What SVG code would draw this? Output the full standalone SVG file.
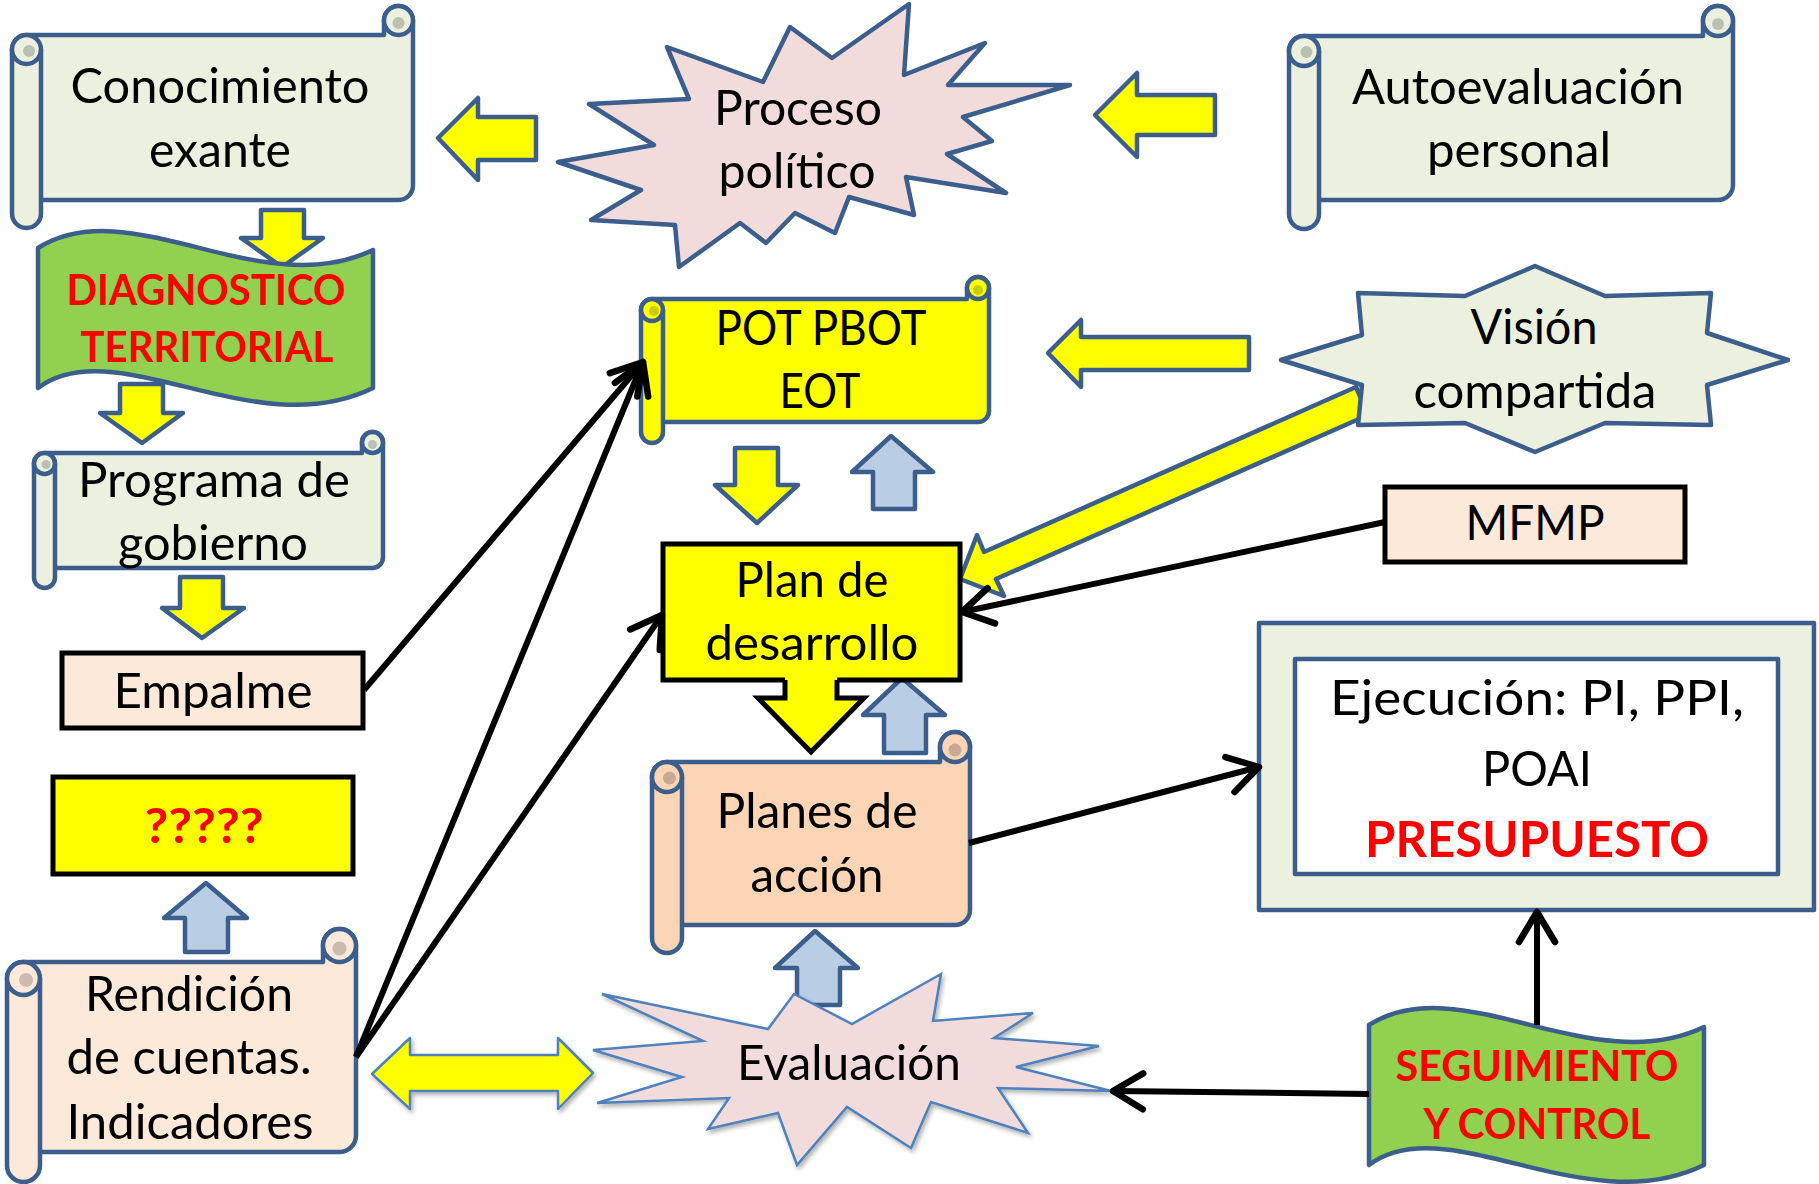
<svg xmlns="http://www.w3.org/2000/svg" width="1819" height="1184" viewBox="0 0 1819 1184">
<style>
text{font-family:Lato,"Liberation Sans",sans-serif;fill:#000;text-anchor:middle}
.t{font-size:49px}
.r{font-size:42px;font-weight:bold;fill:#ff0000}
.sc{stroke:#3b5e8c;stroke-width:4.5;stroke-linejoin:round}
.ln{fill:none;stroke:#3b5e8c;stroke-width:4.5}
.ya{fill:#ffff00;stroke:#3b5e8c;stroke-width:4.5;stroke-linejoin:round}
.ba{fill:#b9cde5;stroke:#3b5e8c;stroke-width:4.5;stroke-linejoin:round}
.bx{stroke:#000;stroke-width:5}
.con{fill:none;stroke:#000;stroke-width:6;marker-end:url(#ah)}
</style>
<defs>
<marker id="ah" markerUnits="userSpaceOnUse" markerWidth="50" markerHeight="50" viewBox="-40 -25 50 50" refX="0" refY="0" orient="auto" overflow="visible">
<path d="M-30,-18 L0,0 L-30,18" fill="none" stroke="#000" stroke-width="6.5" stroke-linecap="round" stroke-linejoin="round"/>
</marker>
<filter id="sh" x="-10%" y="-10%" width="130%" height="130%">
<feDropShadow dx="2" dy="3" stdDeviation="2" flood-color="#000" flood-opacity="0.3"/>
</filter>
<path id="wave" d="M38,248 C130,190 260,304 373,250 L373,388 C255,446 115,330 38,388 Z"/>
</defs>
<rect width="1819" height="1184" fill="#fff"/>

<g id="block-arrows">
<polygon class="ya" points="438,138 478,98 478,117 536,117 536,160 478,160 478,180"/>
<polygon class="ya" points="1095,115 1137,73 1137,95 1215,95 1215,135 1137,135 1137,157"/>
<polygon class="ya" points="1048,353 1081,320 1081,337 1249,337 1249,370 1081,370 1081,387"/>
<polygon class="ya" points="261,210 304,210 304,238 323,238 282,267 241,238 261,238"/>
<polygon class="ya" points="120,384 163,384 163,413 183,413 142,443 100,413 120,413"/>
<polygon class="ya" points="180,577 223,577 223,608 244,608 202,638 162,608 180,608"/>
<polygon class="ba" points="206,883 247,918 228,918 228,952 185,952 185,918 164,918"/>
<polygon class="ya" points="735,448 778,448 778,485 798,485 757,523 715,485 735,485"/>
<polygon class="ba" points="891,436 933,472 915,472 915,509 873,509 873,472 852,472"/>
<path d="M785,676 L785,698 L758,698 L811,752 L864,698 L837,698 L837,676 Z" fill="#ffff00"/>
<path d="M785,680 L785,698 L758,698 L811,752 L864,698 L837,698 L837,680" fill="none" stroke="#000" stroke-width="5" stroke-linejoin="miter"/>
<polygon class="ba" points="902,678 945,715 926,715 926,753 884,753 884,715 863,715"/>
<polygon class="ba" points="815,931 858,968 840,968 840,1005 797,1005 797,968 775,968"/>
<polygon points="372,1074 410,1038 410,1055 558,1055 558,1038 593,1073 558,1109 558,1091 410,1091 410,1109" fill="#ffff00" stroke="#4f81bd" stroke-width="2.5" stroke-linejoin="round" filter="url(#sh)"/>
<polygon class="ya" points="1368,415 996,579 1004,596 960,579 977,535 984,552 1356,387"/>
</g>

<g id="conocimiento">
<path class="sc" fill="#ebf1de" d="M12,49.5 A14.5,14.5 0 0 1 26.5,35 L384,35 L384,20.5 A14.5,14.5 0 0 1 413,20.5 L413,185.5 A14.5,14.5 0 0 1 398.5,200 L41,200 L41,213.5 A14.5,14.5 0 0 1 12,213.5 Z"/>
<circle class="sc" fill="#ebf1de" cx="26.5" cy="49.5" r="14.5"/>
<circle class="sc" fill="#ebf1de" cx="398.5" cy="20.5" r="14.5"/>
<path class="ln" d="M41,49.5 L41,200"/>
<circle fill="#bcc0b2" cx="29" cy="51" r="6"/>
<circle fill="#bcc0b2" cx="398.5" cy="23" r="6"/>
<text class="t" x="220" y="103" textLength="299" lengthAdjust="spacingAndGlyphs">Conocimiento</text>
<text class="t" x="220" y="167" textLength="142" lengthAdjust="spacingAndGlyphs">exante</text>
</g>

<g id="proceso">
<polygon class="sc" fill="#f2dcdb" points="558,162 654,145 589,104 689,99 667,47 763,82 790,27 832,58 909,4 904,75 985,43 948,85 1070,85 963,117 992,141 947,154 1006,193 906,177 914,215 849,197 835,233 795,213 766,243 740,223 679,267 675,225 591,220 641,190"/>
<text class="t" x="798" y="125" textLength="168" lengthAdjust="spacingAndGlyphs">Proceso</text>
<text class="t" x="797" y="188" textLength="157" lengthAdjust="spacingAndGlyphs">político</text>
</g>

<g id="autoevaluacion">
<path class="sc" fill="#ebf1de" d="M1289,51 A15,15 0 0 1 1304,36 L1703,36 L1703,21 A15,15 0 0 1 1733,21 L1733,185 A15,15 0 0 1 1718,200 L1319,200 L1319,214 A15,15 0 0 1 1289,214 Z"/>
<circle class="sc" fill="#ebf1de" cx="1304" cy="51" r="15"/>
<circle class="sc" fill="#ebf1de" cx="1718" cy="21" r="15"/>
<path class="ln" d="M1319,51 L1319,200"/>
<circle fill="#bcc0b2" cx="1306.5" cy="52" r="6"/>
<circle fill="#bcc0b2" cx="1718" cy="24" r="6"/>
<text class="t" x="1518" y="104" textLength="332" lengthAdjust="spacingAndGlyphs">Autoevaluación</text>
<text class="t" x="1519" y="167" textLength="184" lengthAdjust="spacingAndGlyphs">personal</text>
</g>

<g id="diagnostico">
<use href="#wave" class="sc" fill="#92d050"/>
<text class="r" x="206" y="305" textLength="279" lengthAdjust="spacingAndGlyphs">DIAGNOSTICO</text>
<text class="r" x="207" y="362" textLength="253" lengthAdjust="spacingAndGlyphs">TERRITORIAL</text>
</g>

<g id="programa">
<path class="sc" fill="#ebf1de" d="M34,463.5 A10.5,10.5 0 0 1 44.5,453 L362,453 L362,442.5 A10.5,10.5 0 0 1 383,442.5 L383,557.5 A10.5,10.5 0 0 1 372.5,568 L55,568 L55,577.5 A10.5,10.5 0 0 1 34,577.5 Z"/>
<circle class="sc" fill="#ebf1de" cx="44.5" cy="463.5" r="10.5"/>
<circle class="sc" fill="#ebf1de" cx="372.5" cy="442.5" r="10.5"/>
<path class="ln" d="M55,463.5 L55,568"/>
<circle fill="#bcc0b2" cx="46" cy="464.5" r="4.5"/>
<circle fill="#bcc0b2" cx="372.5" cy="444.5" r="4.5"/>
<text class="t" x="214" y="497" textLength="272" lengthAdjust="spacingAndGlyphs">Programa de</text>
<text class="t" x="213" y="560" textLength="190" lengthAdjust="spacingAndGlyphs">gobierno</text>
</g>

<g id="empalme">
<rect class="bx" x="62" y="653" width="301" height="75" fill="#fde9d9"/>
<text class="t" x="213" y="708" textLength="199" lengthAdjust="spacingAndGlyphs">Empalme</text>
</g>

<g id="interrogantes">
<rect class="bx" x="53" y="777" width="300" height="97" fill="#ffff00"/>
<text class="r" x="204" y="843" textLength="119" lengthAdjust="spacingAndGlyphs" style="font-size:48px">?????</text>
</g>

<g id="rendicion">
<path class="sc" fill="#fde9d9" d="M7,978.5 A16.5,16.5 0 0 1 23.5,962 L323,962 L323,945.5 A16.5,16.5 0 0 1 356,945.5 L356,1135.5 A16.5,16.5 0 0 1 339.5,1152 L40,1152 L40,1165.5 A16.5,16.5 0 0 1 7,1165.5 Z"/>
<circle class="sc" fill="#fde9d9" cx="23.5" cy="978.5" r="16.5"/>
<circle class="sc" fill="#fde9d9" cx="339.5" cy="945.5" r="16.5"/>
<path class="ln" d="M40,978.5 L40,1152"/>
<circle fill="#cbbab0" cx="26" cy="980" r="7"/>
<circle fill="#cbbab0" cx="339.5" cy="948.5" r="7"/>
<text class="t" x="189" y="1011" textLength="208" lengthAdjust="spacingAndGlyphs">Rendición</text>
<text class="t" x="189" y="1074" textLength="245" lengthAdjust="spacingAndGlyphs">de cuentas.</text>
<text class="t" x="190" y="1139" textLength="247" lengthAdjust="spacingAndGlyphs">Indicadores</text>
</g>

<g id="pot">
<path class="sc" fill="#ffff00" d="M641,310 A11,11 0 0 1 652,299 L967,299 L967,288 A11,11 0 0 1 989,288 L989,411 A11,11 0 0 1 978,422 L663,422 L663,432 A11,11 0 0 1 641,432 Z"/>
<circle class="sc" fill="#ffff00" cx="652" cy="310" r="11"/>
<circle class="sc" fill="#ffff00" cx="978" cy="288" r="11"/>
<path class="ln" d="M663,310 L663,422"/>
<circle fill="#cccc00" cx="654" cy="311" r="5"/>
<circle fill="#cccc00" cx="978" cy="290" r="5"/>
<text class="t" x="821" y="345" textLength="211" lengthAdjust="spacingAndGlyphs">POT PBOT</text>
<text class="t" x="820" y="408" textLength="81" lengthAdjust="spacingAndGlyphs">EOT</text>
</g>

<g id="plan-desarrollo">
<rect x="663" y="544" width="297" height="136" fill="#ffff00"/>
<path d="M785,680 L663,680 L663,544 L960,544 L960,680 L837,680" fill="none" stroke="#000" stroke-width="5"/>
<text class="t" x="812" y="597" textLength="153" lengthAdjust="spacingAndGlyphs">Plan de</text>
<text class="t" x="812" y="660" textLength="213" lengthAdjust="spacingAndGlyphs">desarrollo</text>
</g>

<g id="planes-accion">
<path class="sc" fill="#fbd5b5" d="M652,777 A15,15 0 0 1 667,762 L940,762 L940,747 A15,15 0 0 1 970,747 L970,910 A15,15 0 0 1 955,925 L682,925 L682,938 A15,15 0 0 1 652,938 Z"/>
<circle class="sc" fill="#fbd5b5" cx="667" cy="777" r="15"/>
<circle class="sc" fill="#fbd5b5" cx="955" cy="747" r="15"/>
<path class="ln" d="M682,777 L682,925"/>
<circle fill="#c9aa91" cx="669.5" cy="778" r="6.5"/>
<circle fill="#c9aa91" cx="955" cy="750" r="6.5"/>
<text class="t" x="817" y="828" textLength="201" lengthAdjust="spacingAndGlyphs">Planes de</text>
<text class="t" x="817" y="892" textLength="133" lengthAdjust="spacingAndGlyphs">acción</text>
</g>

<g id="evaluacion">
<polygon fill="#f2dcdb" stroke="#4f81bd" stroke-width="2.5" stroke-linejoin="miter" filter="url(#sh)" points="593,1050 703,1041 602,994 768,1029 794,994 852,1024 941,974 933,1021 1033,1013 994,1038 1099,1046 1016,1067 1111,1091 998,1088 1028,1133 931,1102 911,1148 847,1107 797,1165 778,1113 708,1129 729,1098 597,1103 682,1077"/>
<text class="t" x="849" y="1080" textLength="224" lengthAdjust="spacingAndGlyphs">Evaluación</text>
</g>

<g id="vision">
<polygon class="sc" fill="#ebf1de" points="1535,266 1605,296 1711,293 1707,333 1788,360 1707,385 1711,425 1605,423 1535,452 1465,423 1358,425 1362,385 1281,360 1362,335 1358,293 1465,296"/>
<text class="t" x="1534" y="344" textLength="127" lengthAdjust="spacingAndGlyphs">Visión</text>
<text class="t" x="1535" y="408" textLength="243" lengthAdjust="spacingAndGlyphs">compartida</text>
</g>

<g id="mfmp">
<rect class="bx" x="1385" y="487" width="300" height="75" fill="#fde9d9"/>
<text class="t" x="1535" y="540" textLength="139" lengthAdjust="spacingAndGlyphs">MFMP</text>
</g>

<g id="ejecucion">
<rect class="sc" x="1259" y="623" width="555" height="287" fill="#ebf1de"/>
<rect class="sc" x="1295" y="659" width="483" height="215" fill="#fff"/>
<text class="t" x="1537" y="715" textLength="414" lengthAdjust="spacingAndGlyphs">Ejecución: PI, PPI,</text>
<text class="t" x="1537" y="786" textLength="110" lengthAdjust="spacingAndGlyphs">POAI</text>
<text class="r" x="1537" y="857" textLength="344" lengthAdjust="spacingAndGlyphs" style="font-size:49px">PRESUPUESTO</text>
</g>

<g id="seguimiento">
<use href="#wave" class="sc" fill="#92d050" transform="translate(1331,777)"/>
<text class="r" x="1537" y="1081" textLength="283" lengthAdjust="spacingAndGlyphs">SEGUIMIENTO</text>
<text class="r" x="1537" y="1139" textLength="227" lengthAdjust="spacingAndGlyphs">Y CONTROL</text>
</g>

<g id="connectors">
<path class="con" d="M364,690 L643,362"/>
<path class="con" d="M356,1057 L643,362"/>
<path class="con" d="M356,1057 L662,615"/>
<path class="con" d="M1385,522 L962,612"/>
<path class="con" d="M969,843 L1259,767"/>
<path class="con" d="M1537,1025 L1537,912"/>
<path class="con" d="M1369,1094 L1113,1091"/>
</g>
</svg>
